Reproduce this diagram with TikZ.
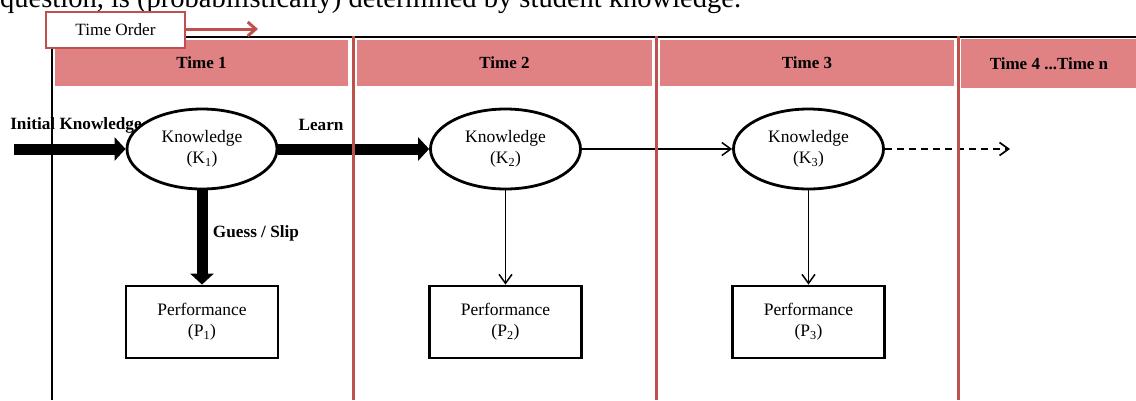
\documentclass[tikz,border=0pt]{standalone}
\usepackage{fontspec}
\setmainfont{Liberation Serif}
\usetikzlibrary{arrows.meta,positioning,shapes.geometric}
\definecolor{HeadRed}{HTML}{E08283}
\definecolor{LineRed}{HTML}{C0504D}
\tikzset{
  know/.style={ellipse,draw,line width=2.8pt,fill=white,minimum width=150pt,
    minimum height=80pt,inner sep=0pt,align=center,font=\fontsize{17.5}{21.5}\selectfont},
  perf/.style={rectangle,draw,line width=2.8pt,fill=white,minimum width=152pt,
    minimum height=72pt,inner sep=0pt,align=center,font=\fontsize{17.5}{21}\selectfont},
  timehead/.style={fill=HeadRed,minimum height=46pt,inner sep=0pt,
    font=\fontsize{17}{20}\selectfont\bfseries},
  boldlbl/.style={inner sep=0pt,font=\fontsize{17.2}{20}\selectfont\bfseries},
  bigarrow/.style={-{Triangle[width=23pt,length=11pt]},line width=11pt},
  thinarrow/.style={-{Straight Barb[width=13pt,length=9pt]},line width=1.5pt},
  redline/.style={draw=LineRed,line width=3pt}
}

\begin{document}
\begin{tikzpicture}[x=1pt,y=-1pt]
  \useasboundingbox (0,0) rectangle (1136,400);
  \begin{scope}
    \clip (0,0) rectangle (1136,400);
    \node[anchor=base west,inner sep=0pt,font=\fontsize{28.5}{32}\selectfont] (cap) at (0,7)
      {question, is (probabilistically) determined by student knowledge.};
  \end{scope}
  % labels go below the frame lines
  \node[boldlbl] (initlbl) at (76,125) {Initial Knowledge};
  \node[boldlbl] (learnlbl) at (321,125) {Learn};
  \node[boldlbl] (gslbl) at (256,233) {Guess / Slip};
  % frame
  \draw[line width=2.8pt] (52,400) -- (52,37) -- (1136,37);
  % time headers
  \node[timehead,minimum width=293pt] (h1) at (201.5,63) {Time 1};
  \node[timehead,minimum width=295pt] (h2) at (504.5,63) {Time 2};
  \node[timehead,minimum width=294pt] (h3) at (807,63) {Time 3};
  \node[timehead,minimum width=176pt,minimum height=49pt] (h4) at (1049,63.5) {Time 4 ...Time n};
  % time order
  \node[draw=LineRed,line width=2.2pt,fill=white,minimum width=139pt,minimum height=36pt,
    inner sep=0pt,font=\fontsize{17.2}{20}\selectfont] (order) at (115.5,30) {Time Order};
  \coordinate (orderend) at (258,29);
  \draw[LineRed,line width=3pt,-{Straight Barb[width=14pt,length=8pt]}] (order.east |- orderend) -- (orderend);
  % knowledge and performance
  \node[know] (k1) at (202,149) {Knowledge\\(K\textsubscript{1})};
  \node[know] (k2) at (505.5,149) {Knowledge\\(K\textsubscript{2})};
  \node[know] (k3) at (808.5,149) {Knowledge\\(K\textsubscript{3})};
  \node[perf] (p1) at (202,322) {Performance\\(P\textsubscript{1})};
  \node[perf] (p2) at (505.5,322) {Performance\\(P\textsubscript{2})};
  \node[perf] (p3) at (808.5,322) {Performance\\(P\textsubscript{3})};
  \coordinate (init) at (14,149);
  \coordinate (next) at (1010,149);
  \draw[bigarrow] (init) -- (k1);
  \draw[bigarrow] (k1) -- (k2);
  \draw[bigarrow] (k1) -- (p1);
  \draw[thinarrow] (k2) -- (k3);
  \draw[thinarrow] (k2) -- (p2);
  \draw[thinarrow] (k3) -- (p3);
  \draw[thinarrow,dash pattern=on 7pt off 5pt,line width=1.7pt] (k3) -- (next);
  % red separators
  \foreach \x in {353,656,958}
    \draw[redline] (\x,36) -- (\x,400);
\end{tikzpicture}
\end{document}
